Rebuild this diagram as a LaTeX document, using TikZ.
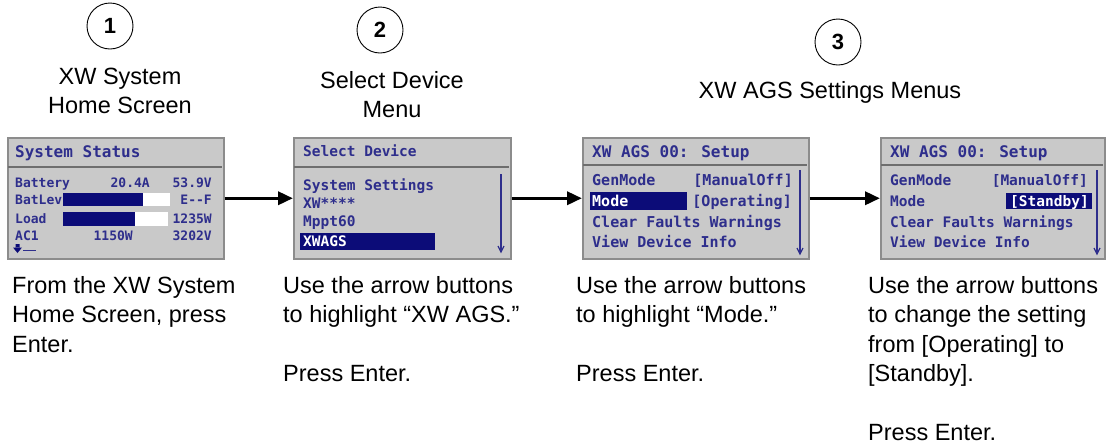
\documentclass[tikz,border=0pt]{standalone}
\usepackage{fontspec}
\setmainfont{Liberation Sans}
\newfontfamily\scrfont{DejaVu Sans Mono}
\usetikzlibrary{arrows.meta}
\definecolor{scrfill}{HTML}{C9C9C9}
\definecolor{scrborder}{HTML}{8C8C8C}
\definecolor{scrsep}{HTML}{6E6E6E}
\definecolor{navytxt}{HTML}{2E2E8C}
\definecolor{navyhl}{HTML}{0C0C78}
\tikzset{
  screen/.style={draw=scrborder, fill=scrfill, line width=1.5pt, anchor=north west, inner sep=0, minimum height=121pt},
  sepline/.style={draw=scrsep, line width=1.5pt},
  bd/.style={text=navytxt, inner sep=0, anchor=base west, font=\scrfont\bfseries\fontsize{#1}{#1}\selectfont},
  hl/.style={bd=#1, text=white},
  scroll/.style={draw=navytxt, line width=1.5pt},
  flow/.style={draw=black, line width=3.5pt, -{Triangle[length=15pt,width=13pt]}},
  num/.style={circle, draw=black, line width=0.9pt, minimum size=46pt, inner sep=0, font=\bfseries\fontsize{22}{26}\selectfont},
  hd/.style={anchor=north, align=center, inner sep=0, font=\fontsize{23.5}{29}\selectfont},
  lbl/.style={anchor=north west, align=left, inner sep=0, font=\fontsize{23.5}{29.5}\selectfont}
}
\begin{document}
\begin{tikzpicture}[x=1pt,y=-1pt]
\useasboundingbox (0,0) rectangle (1106,445);

% step markers and headings
\node[num] (n1) at (110,26) {1};
\node[num] (n2) at (380,30) {2};
\node[num] (n3) at (838,42) {3};
\node[hd] (h1) at (120,68) {XW System\\Home Screen};
\node[hd] (h2) at (392,71) {Select Device\\Menu};
\node[hd] (h3) at (830,81) {XW AGS Settings Menus};

% screen 1
\node[screen, minimum width=216pt] (s1) at (7,137) {};
\draw[sepline] (8,167) -- (222,167);
\node[bd=16] (s1t) at (15,157) {System Status};
\node[bd=13] (s1a) at (15,187) {Battery};
\node[bd=13, anchor=base east] (s1b) at (150,187) {20.4A};
\node[bd=13, anchor=base east] (s1c) at (212,187) {53.9V};
\node[bd=13] (s1d) at (15,204) {BatLev};
\fill[white] (63,193) rectangle (170,206);
\fill[navyhl] (63,193) rectangle (143,206);
\node[bd=13, anchor=base east] (s1e) at (212,204) {E{-}{-}F};
\node[bd=13] (s1f) at (15,223) {Load};
\fill[white] (63,212) rectangle (168,226);
\fill[navyhl] (63,212) rectangle (135,226);
\node[bd=13, anchor=base east] (s1g) at (212,223) {1235W};
\node[bd=13] (s1h) at (15,240) {AC1};
\node[bd=13, anchor=base east] (s1i) at (133,240) {1150W};
\node[bd=13, anchor=base east] (s1j) at (212,240) {3202V};
\fill[navyhl] (15.5,244) rectangle (19.5,248) (13,247.5) -- (22,247.5) -- (17.5,253) -- cycle;
\draw[navytxt, line width=1.5pt] (23,250.5) -- (36,250.5);

% screen 2
\node[screen, minimum width=217pt] (s2) at (293,137) {};
\draw[sepline] (294,167) -- (509,167);
\node[bd=14.5] (s2t) at (303,156) {Select Device};
\node[bd=14.5] (s2a) at (303,190) {System Settings};
\node[bd=14.5] (s2b) at (303,208) {XW****};
\node[bd=14.5] (s2c) at (303,226) {Mppt60};
\fill[navyhl] (300,233) rectangle (435,250);
\node[hl=14.5] (s2d) at (303,246) {XWAGS};
\draw[scroll] (501,174) -- (501,252);
\draw[navytxt, line width=1.2pt] (498,246) -- (501,252) -- (504,246);

% screen 3
\node[screen, minimum width=226pt] (s3) at (582,137) {};
\draw[sepline] (583,165) -- (807,165);
\node[bd=16] (s3t) at (592,157) {XW AGS 00: Setup};
\node[bd=15] (s3a) at (592,185) {GenMode};
\node[bd=15, anchor=base east] (s3b) at (793,185) {[ManualOff]};
\fill[navyhl] (590,192) rectangle (687,210);
\node[hl=15] (s3c) at (592,206) {Mode};
\node[bd=15, anchor=base east] (s3d) at (792,206) {[Operating]};
\node[bd=15] (s3e) at (592,227) {Clear Faults Warnings};
\node[bd=15] (s3f) at (592,247) {View Device Info};
\draw[scroll] (800,170) -- (800,254);
\draw[navytxt, line width=1.2pt] (797,248) -- (800,254) -- (803,248);

% screen 4
\node[screen, minimum width=224pt] (s4) at (880,137) {};
\draw[sepline] (881,165) -- (1103,165);
\node[bd=16] (s4t) at (890,157) {XW AGS 00: Setup};
\node[bd=14.5] (s4a) at (890,185) {GenMode};
\node[bd=14.5, anchor=base east] (s4b) at (1088,185) {[ManualOff]};
\node[bd=14.5] (s4c) at (890,206) {Mode};
\fill[navyhl] (1006,193) rectangle (1092,209);
\node[hl=14.5, anchor=base east] (s4d) at (1089,206) {[Standby]};
\node[bd=14.5] (s4e) at (890,227) {Clear Faults Warnings};
\node[bd=14.5] (s4f) at (890,247) {View Device Info};
\draw[scroll] (1097,170) -- (1097,254);
\draw[navytxt, line width=1.2pt] (1094,248) -- (1097,254) -- (1100,248);

% flow arrows
\draw[flow] (s1.east) -- (s2.west);
\draw[flow] (s2.east) -- (s3.west);
\draw[flow] (s3.east) -- (s4.west);

% captions
\node[lbl] (c1) at (12,276) {From the XW System\\Home Screen, press\\Enter.};
\node[lbl] (c2) at (283,276) {Use the arrow buttons\\to highlight “XW AGS.”\\[29.5pt]Press Enter.};
\node[lbl] (c3) at (576,276) {Use the arrow buttons\\to highlight “Mode.”\\[29.5pt]Press Enter.};
\node[lbl] (c4) at (868,276) {Use the arrow buttons\\to change the setting\\from [Operating] to\\{}[Standby].\\[29.5pt]Press Enter.};
\end{tikzpicture}
\end{document}
